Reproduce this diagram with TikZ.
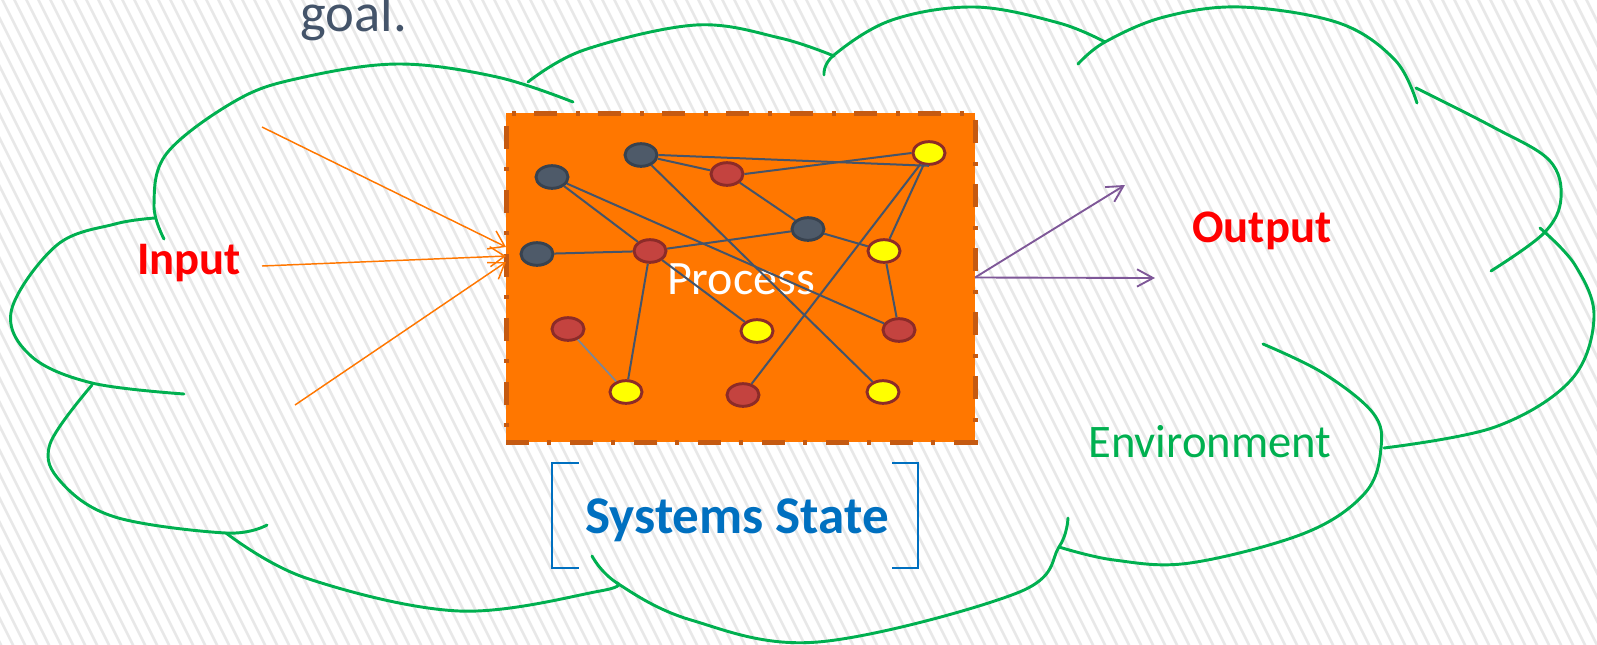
\documentclass[tikz,border=0pt]{standalone}
\usepackage{fontspec}
\setmainfont{Carlito}
\usetikzlibrary{arrows.meta,shapes.geometric,calc}
\definecolor{cloudgreen}{HTML}{00B050}
\definecolor{procfill}{HTML}{FF7700}
\definecolor{procborder}{HTML}{C55A11}
\definecolor{slate}{HTML}{44546A}
\definecolor{darkfill}{HTML}{4E5A69}
\definecolor{darkborder}{HTML}{38424F}
\definecolor{redfill}{HTML}{C4433F}
\definecolor{redborder}{HTML}{8C2B28}
\definecolor{yelfill}{HTML}{FFFF00}
\definecolor{inarrow}{HTML}{FF7700}
\definecolor{outarrow}{HTML}{7E5798}
\definecolor{stateblue}{HTML}{0070C0}
\definecolor{stripegray}{HTML}{E8E8E8}
\begin{document}
\begin{tikzpicture}[x=0.75pt,y=-0.75pt,
  stripe/.style={draw=stripegray,line width=2pt},
  cloudline/.style={draw=cloudgreen,line width=2.2pt,line cap=round},
  procbox/.style={rectangle,fill=procfill,draw=procborder,line width=3.75pt,
    dash pattern=on 17pt off 14pt on 3pt off 14pt,minimum width=351.75pt,
    minimum height=246.75pt,inner sep=0pt,outer sep=0pt},
  proctext/.style={text=white,inner sep=0pt,font=\fontsize{36}{36}\selectfont},
  gnode/.style={ellipse,minimum width=24pt,minimum height=17pt,inner sep=0pt,line width=2.2pt},
  dnode/.style={gnode,fill=darkfill,draw=darkborder},
  rnode/.style={gnode,fill=redfill,draw=redborder},
  ynode/.style={gnode,fill=yelfill,draw=redborder},
  gedge/.style={draw=slate,line width=1.5pt},
  inarr/.style={draw=inarrow,line width=1.1pt,-{Straight Barb[length=11pt,width=15pt,line width=1.1pt]}},
  outarr/.style={draw=outarrow,line width=1.4pt,-{Straight Barb[length=12pt,width=13pt,line width=1.4pt]}},
  bigred/.style={text=red,font=\bfseries\fontsize{35}{35}\selectfont,inner sep=0pt},
  bracketline/.style={draw=stateblue,line width=1.5pt}
]
\useasboundingbox (0,0) rectangle (1597,644);
\fill[white] (0,0) rectangle (1597,644);
\begin{scope}
\clip (0,0) rectangle (1597,644);
\foreach \i in {-30,...,135} {\draw[stripe] (\i*12,-5) -- ++(0.5*660,660);}
\end{scope}

% title fragment
\node[anchor=base west,inner sep=0pt,text=slate,font=\fontsize{41}{41}\selectfont] (goal) at (300,31) {goal.};

% cloud lobes
\draw[cloudline] plot[smooth,tension=0.6] coordinates {(164,239) (154,205) (167,153) (237,100) (300,78) (398,64) (497,77) (573,102)};
\draw[cloudline] plot[smooth,tension=0.6] coordinates {(528,82) (584,50) (696,25) (780,38) (834,56)};
\draw[cloudline] plot[smooth,tension=0.6] coordinates {(824,75) (834,55) (892,20) (975,7) (1059,23) (1105,42)};
\draw[cloudline] plot[smooth,tension=0.6] coordinates {(1078,64) (1105,42) (1164,17) (1241,7) (1339,23) (1395,60) (1417,103)};
\draw[cloudline] plot[smooth,tension=0.6] coordinates {(1416,88) (1493,127) (1549,160) (1561,198) (1544,233) (1491,271)};
\draw[cloudline] plot[smooth,tension=0.6] coordinates {(1540,228) (1575,265) (1594,317) (1571,380) (1495,427) (1384,448)};
\draw[cloudline] plot[smooth,tension=0.6] coordinates {(1263,344) (1323,373) (1373,413) (1381,448) (1365,493) (1305,533) (1190,563) (1114,560) (1059,547)};
\draw[cloudline] plot[smooth,tension=0.6] coordinates {(1068,518) (1059,547) (1017,593) (818,642) (691,620) (617,583) (592,556)};
\draw[cloudline] plot[smooth,tension=0.6] coordinates {(226,533) (306,578) (459,611) (600,591) (617,583)};
\draw[cloudline] plot[smooth,tension=0.6] coordinates {(92,385) (50,444) (61,482) (115,517) (226,533) (267,525)};
\draw[cloudline] plot[smooth,tension=0.6] coordinates {(155,218) (115,224) (57,245) (11.5,310) (31,356) (92,383) (184,394)};

% process box
\node[procbox] (box) at (740.5,277.5) {};
\node[proctext,anchor=base] (proc) at (741,294) {Process};

% graph nodes
\node[dnode] (n1) at (641,155) {};
\node[dnode] (n2) at (552,177) {};
\node[dnode] (n3) at (808,229) {};
\node[dnode] (n4) at (537,254) {};
\node[rnode] (r1) at (727,174) {};
\node[rnode] (r2) at (650,251) {};
\node[rnode] (r3) at (568,329) {};
\node[rnode] (r4) at (899,330) {};
\node[rnode] (r5) at (743,395) {};
\node[ynode] (y1) at (929,153) {};
\node[ynode] (y2) at (884,251) {};
\node[ynode] (y3) at (757,331) {};
\node[ynode] (y4) at (626,392) {};
\node[ynode] (y5) at (883,392) {};

% graph edges
\draw[gedge] (n1.east) -- (y1.south);
\draw[gedge] (n1) -- (r1);
\draw[gedge] (r1.east) -- (y1.west);
\draw[gedge] (n1) -- (y5);
\draw[gedge] (n2) -- (r2);
\draw[gedge] (n2) -- (r4);
\draw[gedge] (r1) -- (n3);
\draw[gedge] (n3) -- (y2);
\draw[gedge] (r2) -- (n3);
\draw[gedge] (n4) -- (r2);
\draw[gedge] (r2) -- (y3);
\draw[gedge] (r2) -- (y4);
\draw[draw=slate!70,line width=1.3pt] (r3) -- (y4);
\draw[gedge] (y1) -- (y2);
\draw[gedge] (y1) -- (r5);
\draw[gedge] (y2) -- (r4);

% input
\node[bigred,anchor=base west] (input) at (137,274) {Input};
\coordinate (i1) at (262,127);
\coordinate (i2) at (262,266);
\coordinate (i3) at (295,405);
\draw[inarr] (i1) -- ([yshift=22.9pt]box.west);
\draw[inarr] (i2) -- ([yshift=16.1pt]box.west);
\draw[inarr] (i3) -- ([yshift=11.6pt]box.west);

% output
\node[bigred,anchor=base west] (output) at (1192,242) {Output};
\coordinate (o1) at (1125,185);
\coordinate (o2) at (1155,278);
\draw[outarr] (box.east) -- (o1);
\draw[outarr] (box.east) -- (o2);

% environment
\node[anchor=base west,inner sep=0pt,text=cloudgreen,font=\fontsize{35}{35}\selectfont] (env) at (1088,457) {Environment};

% systems state
\node[anchor=base west,inner sep=0pt,text=stateblue,font=\bfseries\fontsize{39.8}{39.8}\selectfont] (state) at (585,533) {Systems State};
\draw[bracketline] (578.5,463) -- (551.7,463) -- (551.7,568) -- (578.5,568);
\draw[bracketline] (892,463) -- (918.3,463) -- (918.3,568) -- (892,568);
\end{tikzpicture}
\end{document}
